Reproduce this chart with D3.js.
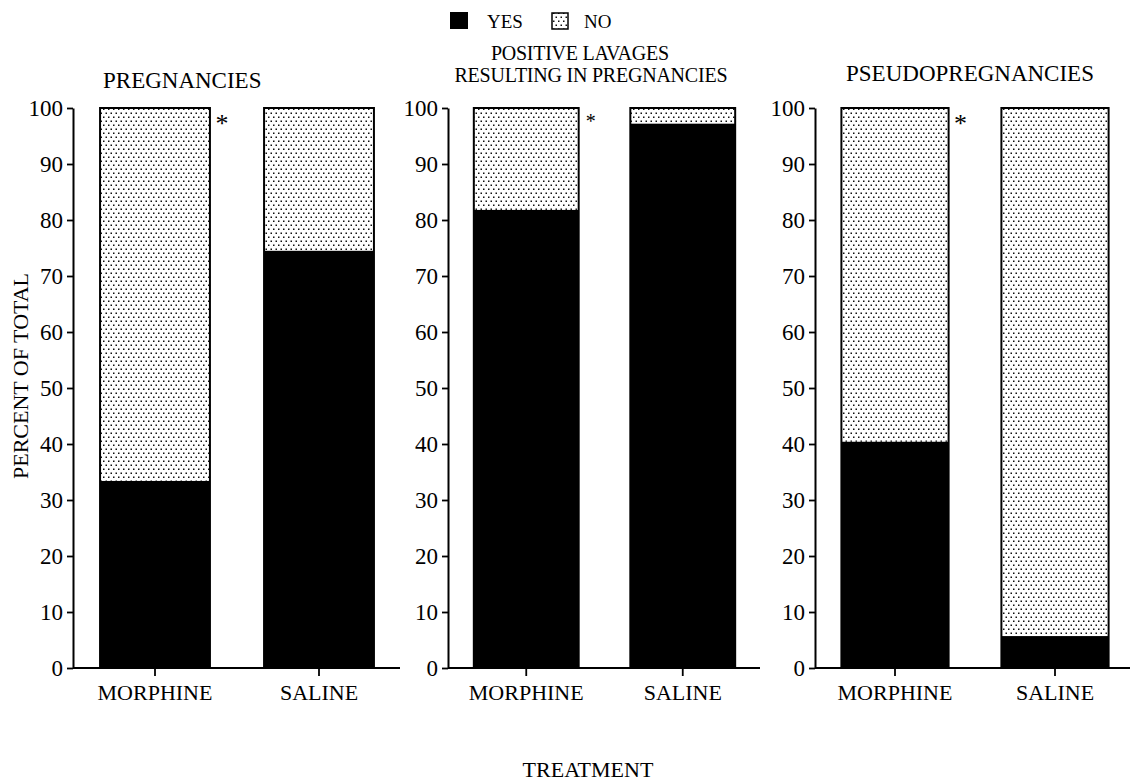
<!DOCTYPE html>
<html>
<head>
<meta charset="utf-8">
<script src="https://cdn.jsdelivr.net/npm/d3@7"></script>
<style>
  html, body { margin: 0; padding: 0; background: #fff; }
  svg text { font-family: "Liberation Serif", "Times New Roman", serif; fill: #000; }
</style>
</head>
<body>
<svg id="chart" width="1130" height="782"></svg>
<script>
// ---- data ----
const categories = ["MORPHINE", "SALINE"];
const panelTitles = [["PREGNANCIES"], ["POSITIVE LAVAGES", "RESULTING IN PREGNANCIES"], ["PSEUDOPREGNANCIES"]];
const yesPregnancies = [33.4, 74.5];
const yesLavages = [81.8, 97.2];
const yesPseudo = [40.4, 5.7];
const significant = [true, true, true]; // asterisk next to MORPHINE bar
const yTicks = [0, 10, 20, 30, 40, 50, 60, 70, 80, 90, 100];
const legendLabels = ["YES", "NO"];
const yLabel = "PERCENT OF TOTAL";
const xLabel = "TREATMENT";

const panelYes = [yesPregnancies, yesLavages, yesPseudo];

// ---- layout ----
const svg = d3.select("#chart");
const defs = svg.append("defs");
const pat = defs.append("pattern").attr("id", "stip")
  .attr("patternUnits", "userSpaceOnUse").attr("width", 5).attr("height", 8);
pat.append("rect").attr("width", 5).attr("height", 8).attr("fill", "#fff");
pat.append("rect").attr("x", 0.5).attr("y", 0.5).attr("width", 1.5).attr("height", 1.5).attr("fill", "#111");
pat.append("rect").attr("x", 3).attr("y", 4.5).attr("width", 1.5).attr("height", 1.5).attr("fill", "#111");

const yTop = 108, yBot = 668;
const y = d3.scaleLinear().domain([0, 100]).range([yBot, yTop]);

const panelRanges = [[73, 401], [448, 761], [815, 1135]];
const axisEnds = [400, 760, 1130];

panelRanges.forEach((r, i) => {
  const g = svg.append("g");
  const x = d3.scaleBand().domain(categories).range(r).paddingInner(0.33).paddingOuter(0.165);
  const yes = panelYes[i];

  // bars
  categories.forEach((c, j) => {
    const bx = x(c), bw = x.bandwidth();
    g.append("rect").attr("x", bx).attr("y", y(100)).attr("width", bw)
      .attr("height", y(yes[j]) - y(100)).attr("fill", "url(#stip)");
    g.append("rect").attr("x", bx).attr("y", y(yes[j])).attr("width", bw)
      .attr("height", y(0) - y(yes[j])).attr("fill", "#000");
    g.append("rect").attr("x", bx).attr("y", y(100)).attr("width", bw)
      .attr("height", y(0) - y(100)).attr("fill", "none")
      .attr("stroke", "#000").attr("stroke-width", 2);
  });

  // y axis
  const ya = g.append("g").attr("transform", `translate(${r[0]},0)`)
    .call(d3.axisLeft(y).tickValues(yTicks).tickSize(6).tickSizeOuter(0).tickPadding(4));
  ya.select(".domain").attr("stroke-width", 2);
  ya.selectAll(".tick line").attr("stroke-width", 1.8);
  ya.selectAll("text").style("font-size", "23px");

  // x axis
  const xa = g.append("g").attr("transform", `translate(0,${yBot})`)
    .call(d3.axisBottom(x).tickSize(8).tickSizeOuter(0).tickPadding(8));
  xa.select(".domain").attr("d", `M${r[0]},0H${axisEnds[i]}`).attr("stroke-width", 2);
  xa.selectAll(".tick line").attr("stroke-width", 1.8);
  xa.selectAll("text").style("font-size", "22px");

  // asterisk
  if (significant[i]) {
    const ax = x(categories[0]) + x.bandwidth() + 12;
    g.append("text").attr("x", ax).attr("y", y(100) + (i === 1 ? 20 : 24))
      .attr("text-anchor", "middle").style("font-size", i === 1 ? "20px" : "26px").text("*");
  }
});

// panel titles
svg.append("text").attr("x", 103).attr("y", 88).style("font-size", "23px").text(panelTitles[0][0]);
svg.append("text").attr("x", 580).attr("y", 60).attr("text-anchor", "middle")
  .style("font-size", "20px").attr("textLength", 178).text(panelTitles[1][0]);
svg.append("text").attr("x", 591).attr("y", 82).attr("text-anchor", "middle")
  .style("font-size", "20px").attr("textLength", 273).text(panelTitles[1][1]);
svg.append("text").attr("x", 970).attr("y", 81).attr("text-anchor", "middle")
  .style("font-size", "23px").text(panelTitles[2][0]);

// legend
const lg = svg.append("g");
lg.append("rect").attr("x", 450).attr("y", 12).attr("width", 18).attr("height", 17).attr("fill", "#000");
lg.append("text").attr("x", 487).attr("y", 28).style("font-size", "19px").text(legendLabels[0]);
lg.append("rect").attr("x", 552).attr("y", 13).attr("width", 16).attr("height", 16)
  .attr("fill", "url(#stip)").attr("stroke", "#000").attr("stroke-width", 1.5);
lg.append("text").attr("x", 584).attr("y", 28).style("font-size", "19px").text(legendLabels[1]);

// axis labels
svg.append("text").attr("transform", `translate(28,376) rotate(-90)`).attr("text-anchor", "middle")
  .style("font-size", "22px").text(yLabel);
svg.append("text").attr("x", 588).attr("y", 777).attr("text-anchor", "middle")
  .style("font-size", "22px").text(xLabel);
</script>
</body>
</html>
